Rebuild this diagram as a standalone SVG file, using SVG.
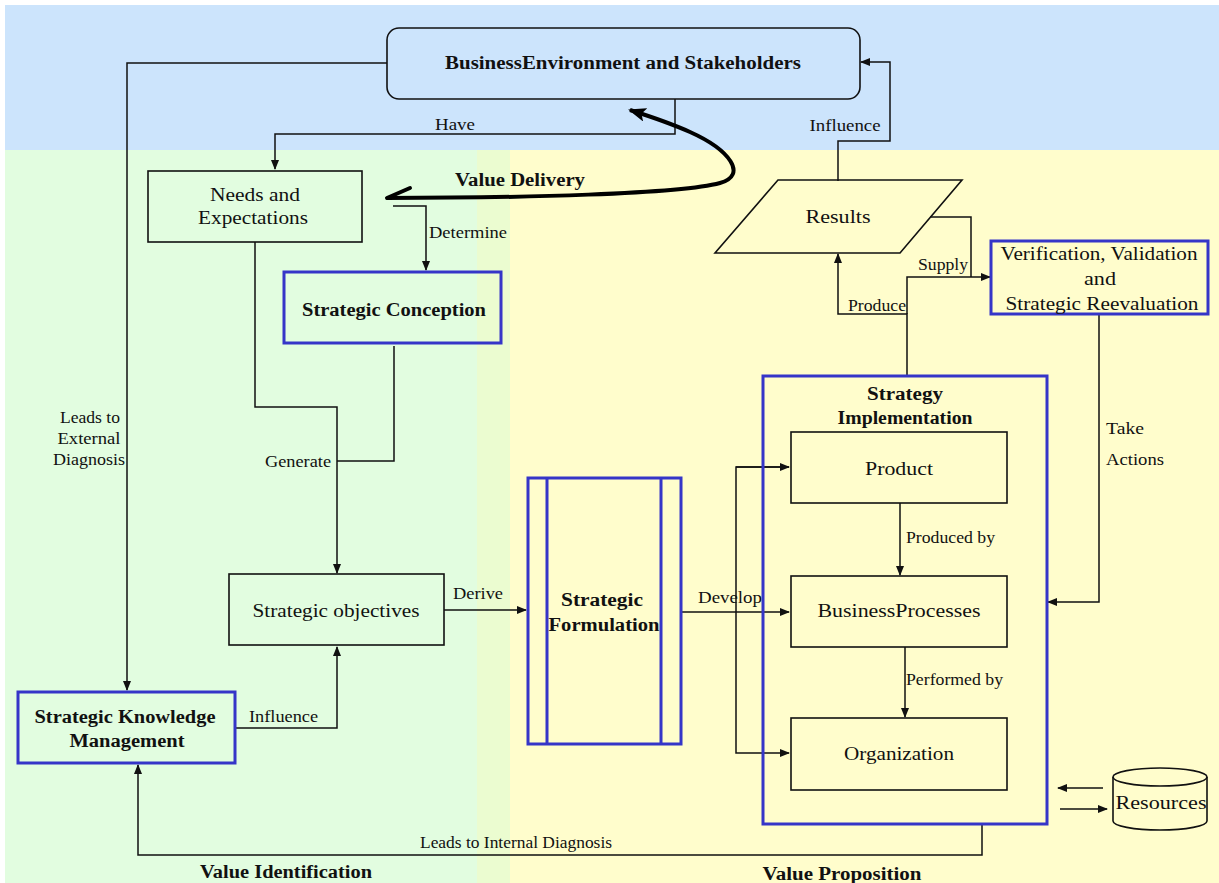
<svg xmlns="http://www.w3.org/2000/svg" width="1219" height="883" viewBox="0 0 1219 883">
<defs>
<style>
.t{font-family:"Liberation Serif","Times New Roman",serif;font-size:18px;fill:#111;}
.b{font-weight:bold;}
.l{font-size:16px;}
.box{fill:none;stroke:#111;stroke-width:1.6;}
.blue{fill:none;stroke:#3535c8;stroke-width:3;}
.c{fill:none;stroke:#111;stroke-width:1.5;}
</style>
<marker id="arr" markerWidth="10" markerHeight="8" refX="9" refY="4" orient="auto" markerUnits="userSpaceOnUse"><path d="M0,0 L10,4 L0,8 z" fill="#111"/></marker>
<marker id="big" markerWidth="18" markerHeight="14" refX="16" refY="7" orient="auto" markerUnits="userSpaceOnUse"><path d="M0,0 L18,7 L0,14 L4,7 z" fill="#000"/></marker>
</defs>
<g id="background">
<rect x="0" y="0" width="1219" height="883" fill="#ffffff"/>
<rect x="5" y="5" width="1214" height="145" fill="#cce4fc"/>
<rect x="5" y="150" width="472" height="733" fill="#e2fde0"/>
<rect x="477" y="150" width="33" height="733" fill="#ebfcd0"/>
<rect x="510" y="150" width="709" height="733" fill="#fffdcc"/>
</g>
<g id="connectors">
<path class="c" d="M387,63 H127 V690" marker-end="url(#arr)"/>
<path class="c" d="M675,99 V134 H275 V169" marker-end="url(#arr)"/>
<path class="c" d="M838,181 V141 H890 V62 H861" marker-end="url(#arr)"/>
<path class="c" d="M393,206 H426 V270" marker-end="url(#arr)"/>
<path class="c" d="M255,242 V407 H337 V573" marker-end="url(#arr)"/>
<path class="c" d="M394,346 V461 H337"/>
<path class="c" d="M444,610 H526" marker-end="url(#arr)"/>
<path class="c" d="M235,728 H337 V647" marker-end="url(#arr)"/>
<path class="c" d="M982,824 V855 H138 V765" marker-end="url(#arr)"/>
<path class="c" d="M681,612 H789" marker-end="url(#arr)"/>
<path class="c" d="M789,467 H736 V753 H789" marker-end="url(#arr)"/>
<path class="c" d="M736,467 H789" marker-end="url(#arr)"/>
<path class="c" d="M900,503 V575" marker-end="url(#arr)"/>
<path class="c" d="M905,647 V717" marker-end="url(#arr)"/>
<path class="c" d="M907,376 V314 H838 V254" marker-end="url(#arr)"/>
<path class="c" d="M907,314 V277 H990" marker-end="url(#arr)"/>
<path class="c" d="M930,217 H971 V277"/>
<path class="c" d="M1099,314 V602 H1048" marker-end="url(#arr)"/>
<path class="c" d="M1103,788 H1058" marker-end="url(#arr)"/>
<path class="c" d="M1060,809 H1107" marker-end="url(#arr)"/>
<path d="M387,198 C520,198 680,194 720,183 C748,175 730,150 690,132 C670,123 652,117 630,110" fill="none" stroke="#000" stroke-width="4" marker-end="url(#big)"/>
<path d="M387,198 L410,188" fill="none" stroke="#000" stroke-width="4" stroke-linecap="round"/>
<text class="t l" x="455" y="130" text-anchor="middle" textLength="40" lengthAdjust="spacingAndGlyphs">Have</text>
<text class="t l" x="845" y="131" text-anchor="middle" textLength="71" lengthAdjust="spacingAndGlyphs">Influence</text>
<text class="t l" x="429" y="238" textLength="78" lengthAdjust="spacingAndGlyphs">Determine</text>
<text class="t l" x="298" y="467" text-anchor="middle" textLength="66" lengthAdjust="spacingAndGlyphs">Generate</text>
<text class="t l" x="90" y="423" text-anchor="middle" textLength="60" lengthAdjust="spacingAndGlyphs">Leads to</text>
<text class="t l" x="89" y="444" text-anchor="middle" textLength="63" lengthAdjust="spacingAndGlyphs">External</text>
<text class="t l" x="89" y="465" text-anchor="middle" textLength="72" lengthAdjust="spacingAndGlyphs">Diagnosis</text>
<text class="t l" x="453" y="599" textLength="50" lengthAdjust="spacingAndGlyphs">Derive</text>
<text class="t l" x="249" y="722" textLength="69" lengthAdjust="spacingAndGlyphs">Influence</text>
<text class="t l" x="420" y="848" textLength="192" lengthAdjust="spacingAndGlyphs">Leads to Internal Diagnosis</text>
<text class="t l" x="698" y="603" textLength="64" lengthAdjust="spacingAndGlyphs">Develop</text>
<text class="t l" x="906" y="543" textLength="89" lengthAdjust="spacingAndGlyphs">Produced by</text>
<text class="t l" x="906" y="685" textLength="97" lengthAdjust="spacingAndGlyphs">Performed by</text>
<text class="t l" x="848" y="311" textLength="58" lengthAdjust="spacingAndGlyphs">Produce</text>
<text class="t l" x="918" y="270" textLength="50" lengthAdjust="spacingAndGlyphs">Supply</text>
<text class="t l" x="1106" y="434" textLength="38" lengthAdjust="spacingAndGlyphs">Take</text>
<text class="t l" x="1106" y="465" textLength="58" lengthAdjust="spacingAndGlyphs">Actions</text>
</g>
<g id="regions">
<text class="t b" x="520" y="186" text-anchor="middle" textLength="130" lengthAdjust="spacingAndGlyphs">Value Delivery</text>
<text class="t b" x="286" y="878" text-anchor="middle" textLength="172" lengthAdjust="spacingAndGlyphs">Value Identification</text>
<text class="t b" x="842" y="880" text-anchor="middle" textLength="159" lengthAdjust="spacingAndGlyphs">Value Proposition</text>
</g>
<g id="business-environment">
<rect class="box" x="387" y="28" width="473" height="71" rx="12"/>
<text class="t b" x="623" y="69" text-anchor="middle" textLength="356" lengthAdjust="spacingAndGlyphs">BusinessEnvironment and  Stakeholders</text>
</g>
<g id="needs">
<rect class="box" x="148" y="171" width="214" height="71"/>
<text class="t" x="255" y="201" text-anchor="middle" textLength="90" lengthAdjust="spacingAndGlyphs">Needs and</text>
<text class="t" x="253" y="224" text-anchor="middle" textLength="110" lengthAdjust="spacingAndGlyphs">Expectations</text>
</g>
<g id="strategic-conception">
<rect class="blue" x="284" y="272" width="217" height="71"/>
<text class="t b" x="394" y="316" text-anchor="middle" textLength="184" lengthAdjust="spacingAndGlyphs">Strategic Conception</text>
</g>
<g id="strategic-objectives">
<rect class="box" x="229" y="574" width="215" height="71"/>
<text class="t" x="336" y="617" text-anchor="middle" textLength="167" lengthAdjust="spacingAndGlyphs">Strategic objectives</text>
</g>
<g id="strategic-knowledge">
<rect class="blue" x="18" y="692" width="217" height="71"/>
<text class="t b" x="125" y="723" text-anchor="middle" textLength="181" lengthAdjust="spacingAndGlyphs">Strategic Knowledge</text>
<text class="t b" x="127" y="747" text-anchor="middle" textLength="115" lengthAdjust="spacingAndGlyphs">Management</text>
</g>
<g id="strategic-formulation">
<rect class="blue" x="528" y="478" width="153" height="266"/>
<line x1="547" y1="478" x2="547" y2="744" stroke="#3535c8" stroke-width="3"/>
<line x1="661" y1="478" x2="661" y2="744" stroke="#3535c8" stroke-width="3"/>
<text class="t b" x="602" y="606" text-anchor="middle" textLength="82" lengthAdjust="spacingAndGlyphs">Strategic</text>
<text class="t b" x="604" y="631" text-anchor="middle" textLength="111" lengthAdjust="spacingAndGlyphs">Formulation</text>
</g>
<g id="strategy-implementation">
<rect class="blue" x="763" y="376" width="284" height="448"/>
<text class="t b" x="905" y="400" text-anchor="middle" textLength="76" lengthAdjust="spacingAndGlyphs">Strategy</text>
<text class="t b" x="905" y="424" text-anchor="middle" textLength="135" lengthAdjust="spacingAndGlyphs">Implementation</text>
</g>
<g id="product">
<rect class="box" x="791" y="432" width="216" height="71"/>
<text class="t" x="899" y="475" text-anchor="middle" textLength="68" lengthAdjust="spacingAndGlyphs">Product</text>
</g>
<g id="business-processes">
<rect class="box" x="791" y="576" width="216" height="71"/>
<text class="t" x="899" y="617" text-anchor="middle" textLength="163" lengthAdjust="spacingAndGlyphs">BusinessProcesses</text>
</g>
<g id="organization">
<rect class="box" x="791" y="718" width="216" height="72"/>
<text class="t" x="899" y="760" text-anchor="middle" textLength="110" lengthAdjust="spacingAndGlyphs">Organization</text>
</g>
<g id="results">
<polygon class="box" points="778,180 962,180 900,253 715,253"/>
<text class="t" x="838" y="223" text-anchor="middle" textLength="65" lengthAdjust="spacingAndGlyphs">Results</text>
</g>
<g id="verification">
<rect class="blue" x="991" y="241" width="217" height="73"/>
<text class="t" x="1099" y="260" text-anchor="middle" textLength="197" lengthAdjust="spacingAndGlyphs">Verification, Validation</text>
<text class="t" x="1100" y="285" text-anchor="middle" textLength="32" lengthAdjust="spacingAndGlyphs">and</text>
<text class="t" x="1102" y="310" text-anchor="middle" textLength="193" lengthAdjust="spacingAndGlyphs">Strategic Reevaluation</text>
</g>
<g id="resources">
<path class="box" d="M1113,777 V821 A47,9 0 0 0 1207,821 V777"/>
<ellipse class="box" cx="1160" cy="777" rx="47" ry="9"/>
<text class="t" x="1161" y="809" text-anchor="middle" textLength="91" lengthAdjust="spacingAndGlyphs">Resources</text>
</g>
</svg>
